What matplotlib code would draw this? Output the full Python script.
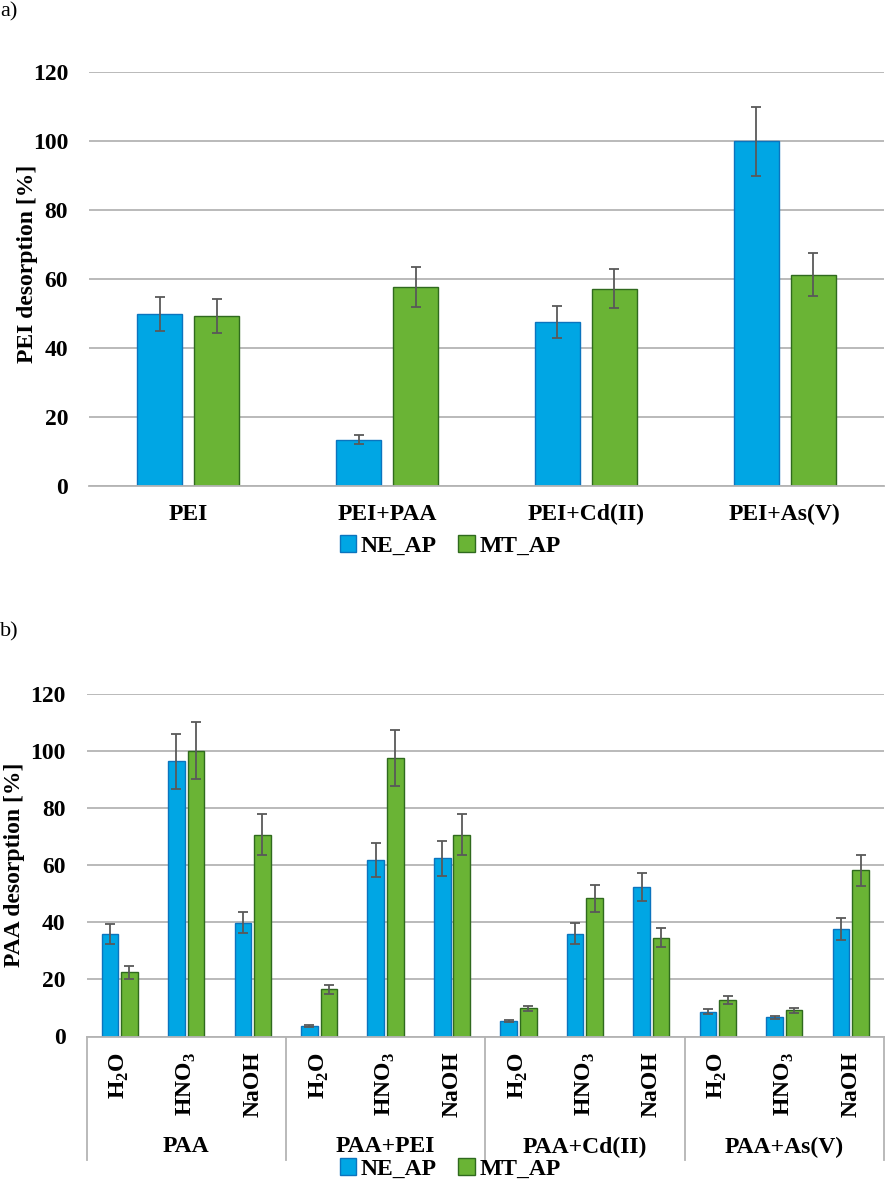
import matplotlib
matplotlib.use('Agg')
import matplotlib.pyplot as plt
import matplotlib.transforms as mtransforms
from matplotlib.patches import Patch
import numpy as np

plt.rcParams['font.family'] = ['Liberation Serif', 'DejaVu Serif']
plt.rcParams['mathtext.fontset'] = 'custom'
plt.rcParams['mathtext.rm'] = 'Liberation Serif'
plt.rcParams['mathtext.bf'] = 'Liberation Serif:bold'

# panel a data
groups_a = ['PEI', 'PEI+PAA', 'PEI+Cd(II)', 'PEI+As(V)']
ne_a = [49.8, 13.4, 47.5, 100.0]
ne_a_err = [5.0, 1.3, 4.7, 10.0]
mt_a = [49.2, 57.8, 57.2, 61.3]
mt_a_err = [4.9, 5.8, 5.7, 6.1]

# panel b data
groups_b = ['PAA', 'PAA+PEI', 'PAA+Cd(II)', 'PAA+As(V)']
eluents = [r'H$_\mathbf{2}$O', r'HNO$_\mathbf{3}$', 'NaOH']
ne_b = [35.7, 96.3, 39.8, 3.6, 61.7, 62.3, 5.4, 36.0, 52.3, 8.6, 6.7, 37.6]
ne_b_err = [3.5, 9.7, 3.7, 0.4, 5.9, 6.0, 0.5, 3.6, 5.0, 0.9, 0.6, 3.8]
mt_b = [22.5, 100.0, 70.6, 16.5, 97.5, 70.6, 9.8, 48.3, 34.5, 12.7, 9.2, 58.1]
mt_b_err = [2.3, 10.0, 7.1, 1.6, 9.7, 7.1, 1.0, 4.6, 3.3, 1.3, 0.9, 5.5]

blue, blue_edge = '#00A6E4', '#0B74BE'
green, green_edge = '#6AB435', '#2F6A1E'
err_col = '#595959'
grid_col = '#B4B4B4'
FS = 17

W, H = 886, 1182
fig = plt.figure(figsize=(W / 100, H / 100), dpi=100)


def px_axes(x0, x1, ytop, ybot):
    return fig.add_axes([x0 / W, 1 - ybot / H, (x1 - x0) / W, (ybot - ytop) / H])


def style(ax):
    ax.set_ylim(0, 120)
    ax.set_yticks(np.arange(0, 121, 20))
    ax.yaxis.grid(True, color=grid_col, lw=1.3)
    ax.set_axisbelow(True)
    for s in ['top', 'right', 'left']:
        ax.spines[s].set_visible(False)
    ax.spines['bottom'].set_color(grid_col)
    ax.spines['bottom'].set_linewidth(1.3)
    ax.tick_params(axis='y', length=0, pad=15, labelsize=FS)
    for t in ax.get_yticklabels():
        t.set_fontweight('bold')


ekw = dict(ecolor=err_col, elinewidth=1.3, capsize=3.5, capthick=1.3)

# ---- panel a
ax1 = px_axes(89, 884, 72, 486)
xa = np.arange(len(groups_a))
wa = 0.226
ax1.bar(xa - 0.143, ne_a, wa, yerr=ne_a_err, color=blue, edgecolor=blue_edge,
        lw=1, error_kw=ekw)
ax1.bar(xa + 0.143, mt_a, wa, yerr=mt_a_err, color=green, edgecolor=green_edge,
        lw=1, error_kw=ekw)
ax1.set_xlim(-0.5, len(groups_a) - 0.5)
style(ax1)
ax1.set_xticks(xa)
ax1.set_xticklabels(groups_a, fontsize=FS, fontweight='bold')
ax1.tick_params(axis='x', length=0, pad=13)
ax1.set_ylabel('PEI desorption [%]', fontsize=FS, fontweight='bold')
ax1.yaxis.set_label_coords(-(89 - 38) / 795, 0.536)

# ---- panel b
ax2 = px_axes(86.5, 884, 693.6, 1036.5)
xb = np.arange(len(ne_b))
wb = 0.25
ax2.bar(xb - 0.147, ne_b, wb, yerr=ne_b_err, color=blue, edgecolor=blue_edge,
        lw=1, error_kw=ekw)
ax2.bar(xb + 0.147, mt_b, wb, yerr=mt_b_err, color=green, edgecolor=green_edge,
        lw=1, error_kw=ekw)
ax2.set_xlim(-0.5, len(ne_b) - 0.5)
style(ax2)
ax2.set_xticks(xb)
ax2.set_xticklabels(eluents * len(groups_b), rotation=90, fontsize=FS,
                    fontweight='bold', va='top')
ax2.tick_params(axis='x', length=0, pad=11)
ax2.set_ylabel('PAA desorption [%]', fontsize=FS, fontweight='bold')
ax2.yaxis.set_label_coords(-(86.5 - 25) / 797.5, 0.5)

# group separators and group names under the eluent labels
trans = mtransforms.blended_transform_factory(ax2.transData, ax2.transAxes)
hb = 1036.5 - 693.6
sep_bottom = -(1160 - 1036.5) / hb
for i in range(len(groups_b) + 1):
    xs = i * 3 - 0.5
    ax2.plot([xs, xs], [0, sep_bottom], color=grid_col, lw=1.3,
             transform=trans, clip_on=False)
for i, g in enumerate(groups_b):
    ax2.text(i * 3 + 1, -(1147 - 1036.5) / hb, g, transform=trans,
             ha='center', va='center', fontsize=FS, fontweight='bold')

# legends and panel letters
handles = [Patch(facecolor=blue, edgecolor=blue_edge, label='NE_AP'),
           Patch(facecolor=green, edgecolor=green_edge, label='MT_AP')]
for yc in [546, 1169]:
    fig.legend(handles=handles, loc='center', bbox_to_anchor=(450 / W, 1 - yc / H),
               ncol=2, frameon=False, handlelength=0.7, handleheight=0.7,
               handletextpad=0.2, columnspacing=0.9, borderaxespad=0,
               borderpad=0, prop={'size': FS, 'weight': 'bold'})

fig.text(0, 1 - 12 / H, 'a)', fontsize=16, va='center', ha='left')
fig.text(0, 1 - 632 / H, 'b)', fontsize=16, va='center', ha='left')

fig.savefig('out.png', dpi=100)
